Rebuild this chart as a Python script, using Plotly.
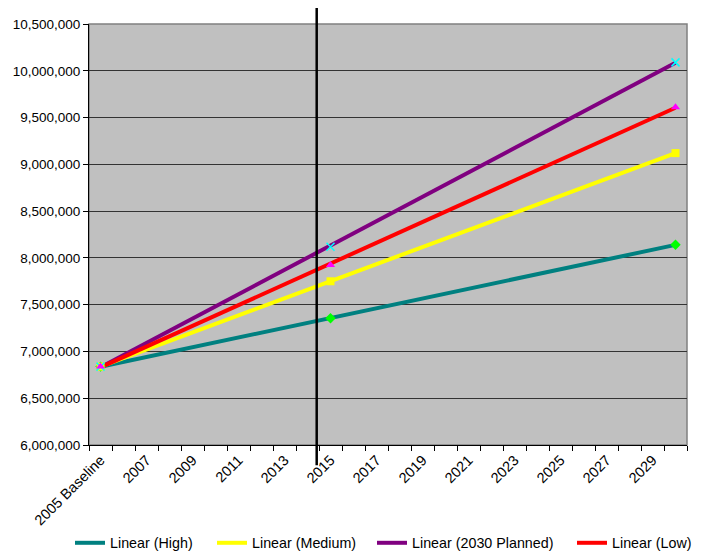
import numpy as np
import plotly.graph_objects as go

# Category axis: 2005 baseline through 2030
years = ["2005 Baseline"] + [str(y) for y in range(2006, 2031)]

# Observed/projected population points (year, value)
point_years = ["2005 Baseline", "2015", "2030"]
high = [6838000, 7355000, 8140000]
medium = [6838000, 7750000, 9120000]
planned = [6838000, 8120000, 10090000]
low = [6838000, 7925000, 9610000]

# Tick labels shown on the category axis (every other year)
tick_labels = ["2005 Baseline"] + [str(y) for y in range(2007, 2030, 2)]

series = [
    ("High", high, "#008080", "diamond", "#00FF00"),
    ("Medium", medium, "#FFFF00", "square", "#FFFF00"),
    ("2030 Planned", planned, "#800080", "x-thin", "#00FFFF"),
    ("Low", low, "#FF0000", "triangle-up", "#FF00FF"),
]

# Left edge (px) of each legend entry along the bottom
legend_left = [70, 212, 372, 572]

idx = {name: i for i, name in enumerate(years)}
px = np.array([idx[p] for p in point_years], dtype=float)

W, H = 703, 553
fig = go.Figure()

# Linear trendlines fitted to each series, each with its own legend entry
legend_layouts = {}
for k, (name, vals, lcolor, _, _) in enumerate(series):
    slope, icpt = np.polyfit(px, np.array(vals, dtype=float), 1)
    xs = np.array([px.min(), px.max()])
    lg = "legend" if k == 0 else f"legend{k + 1}"
    fig.add_trace(go.Scatter(
        x=xs, y=slope * xs + icpt, mode="lines",
        line=dict(color=lcolor, width=4),
        name=f"Linear ({name})", showlegend=True, legend=lg,
    ))
    legend_layouts[lg] = dict(
        xref="container", yref="container",
        x=legend_left[k] / W, xanchor="left",
        y=1 - 543 / H, yanchor="middle",
        font=dict(size=14.3), itemwidth=30,
        bgcolor="rgba(0,0,0,0)", borderwidth=0,
    )

# Data point markers
for name, vals, _, sym, mcolor in series:
    line_w = 1.5 if sym == "x-thin" else 0
    fig.add_trace(go.Scatter(
        x=px, y=vals, mode="markers",
        marker=dict(symbol=sym, size=8, color=mcolor,
                    line=dict(color=mcolor, width=line_w)),
        showlegend=False, name=name,
    ))

# Vertical marker line near 2015
fig.add_shape(type="line", xref="x", yref="paper",
              x0=9.4, x1=9.4, y0=-0.048, y1=1.038,
              line=dict(color="black", width=2.5), layer="above")

# Plot area border
fig.add_shape(type="rect", xref="paper", yref="paper",
              x0=0, x1=1, y0=0, y1=1,
              line=dict(color="#808080", width=1.5), layer="below")

fig.update_layout(
    width=W, height=H,
    margin=dict(l=89, r=16, t=24, b=108, autoexpand=False),
    paper_bgcolor="white", plot_bgcolor="#C0C0C0",
    font=dict(family="Liberation Sans, Arial, sans-serif", color="black"),
    showlegend=True,
    xaxis=dict(
        range=[-0.5, len(years) - 0.5],
        tickmode="array",
        tickvals=[idx[t] for t in tick_labels],
        ticktext=tick_labels,
        tickangle=-45,
        ticks="", showgrid=False, zeroline=False, automargin=False,
        showline=True, linecolor="black", linewidth=1,
        tickfont=dict(size=14.5),
        minor=dict(tick0=-0.5, dtick=1, ticks="outside", ticklen=5,
                   tickcolor="black", tickwidth=1, showgrid=False),
    ),
    yaxis=dict(
        range=[6000000, 10500000], dtick=500000, tick0=6000000,
        tickformat=",", ticks="outside", ticklen=5, tickcolor="black",
        showgrid=True, gridcolor="#333333", gridwidth=1, automargin=False,
        zeroline=False, showline=True, linecolor="black", linewidth=1,
        tickfont=dict(size=13.5),
    ),
    **legend_layouts,
)

fig.write_html("out.html")
